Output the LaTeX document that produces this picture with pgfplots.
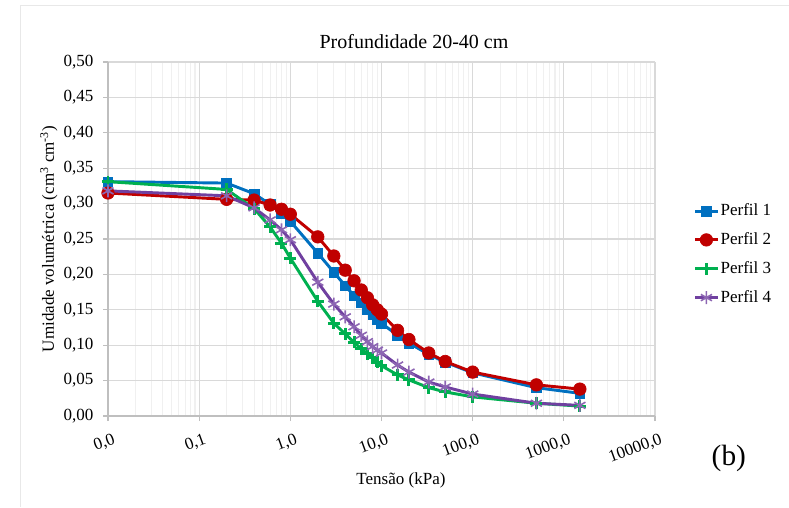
\documentclass[border=0pt]{standalone}
\usepackage{pgfplots}
\pgfplotsset{compat=1.18}
\usepackage{fontspec}
\setmainfont{Liberation Serif}
\definecolor{cBlue}{HTML}{0070C0}
\definecolor{cRed}{HTML}{C00000}
\definecolor{cGreen}{HTML}{00B050}
\definecolor{cPurple}{HTML}{7040A0}
\definecolor{gMaj}{HTML}{D9D9D9}
\definecolor{gMin}{HTML}{F0F0F0}
\definecolor{gAx}{HTML}{BFBFBF}
\begin{document}
\fontsize{12.75pt}{15pt}\selectfont
\begin{tikzpicture}
\path[use as bounding box] (0,0) rectangle (591.75pt,380.25pt);
\draw[gMaj!60, line width=0.6pt] (15pt,0) -- (15pt,376.5pt) -- (591.75pt,376.5pt);
\begin{axis}[
  at={(81pt,68.25pt)}, anchor=south west,
  scale only axis, width=410.25pt, height=265.5pt,
  xmode=log, xmin=0.01, xmax=10000, ymin=0, ymax=0.5,
  xtick={0.01,0.1,1,10,100,1000,10000},
  xticklabels={{0,0},{0,1},{1,0},{10,0},{100,0},{1000,0},{10000,0}},
  ytick={0,0.05,...,0.5},
  /pgf/number format/fixed, /pgf/number format/fixed zerofill,
  /pgf/number format/precision=2, /pgf/number format/use comma,
  /pgf/number format/assume math mode=true,
  yticklabel style={inner sep=0pt, xshift=-7pt},
  xticklabel style={rotate=20, anchor=north east, inner sep=0pt, yshift=-9pt},
  axis x line*=bottom, axis y line*=left,
  axis line style={-, draw=gAx, line width=0.8pt},
  tick align=outside, major tick length=3.75pt, minor tick length=0pt,
  major tick style={draw=gAx, line width=0.8pt},
  xmajorgrids, ymajorgrids, xminorgrids,
  major grid style={draw=gMaj, line width=0.8pt},
  minor grid style={draw=gMin, line width=0.8pt},
  title={Profundidade 20-40 cm},
  title style={at={(axis description cs:0.5594,1.0565)}, anchor=center, yshift=-6pt, font=\fontsize{15pt}{18pt}\selectfont},
  xlabel={Tensão (kPa)},
  xlabel style={at={(axis description cs:0.5356,-0.182)}, anchor=center},
  ylabel={Umidade volumétrica (cm\textsuperscript{3} cm\textsuperscript{-3})},
  ylabel style={at={(axis description cs:-0.108,0.5)}, anchor=center},
  legend style={at={(axis description cs:1.07,0.604)}, anchor=north west, draw=none, fill=none, row sep=8.75pt, inner sep=0pt, nodes={inner sep=1pt}},
  legend cell align=left,
  clip=false,
]
\addplot[color=cBlue, line width=2.2pt, mark=square*, mark size=3.6pt, mark options={line width=0.5pt}] coordinates {
(0.01,0.331) (0.2,0.329) (0.4,0.314) (0.6,0.299) (0.8,0.286) (1,0.275) (2,0.230) (3,0.203) (4,0.184) (5,0.170) (6,0.160) (7,0.151) (8,0.143) (9,0.136) (10,0.131) (15,0.114) (20,0.103) (33,0.087) (50,0.076) (100,0.061) (500,0.040) (1500,0.032)};
\addlegendentry{Perfil 1}
\addplot[color=cRed, line width=2.2pt, mark=*, mark size=4.7pt, mark options={line width=0.5pt}] coordinates {
(0.01,0.315) (0.2,0.306) (0.4,0.305) (0.6,0.298) (0.8,0.292) (1,0.285) (2,0.253) (3,0.226) (4,0.206) (5,0.191) (6,0.178) (7,0.167) (8,0.157) (9,0.150) (10,0.144) (15,0.121) (20,0.108) (33,0.089) (50,0.077) (100,0.062) (500,0.044) (1500,0.038)};
\addlegendentry{Perfil 2}
\addplot[color=cGreen, line width=2.2pt, mark=+, mark size=4.5pt, mark options={line width=2.2pt}] coordinates {
(0.01,0.331) (0.2,0.320) (0.4,0.293) (0.6,0.267) (0.8,0.244) (1,0.223) (2,0.162) (3,0.131) (4,0.116) (5,0.104) (6,0.095) (7,0.088) (8,0.082) (9,0.076) (10,0.071) (15,0.058) (20,0.051) (33,0.040) (50,0.034) (100,0.027) (500,0.018) (1500,0.014)};
\addlegendentry{Perfil 3}
\addplot[color=cPurple, line width=2.2pt, mark=asterisk, mark size=4.8pt, mark options={line width=1.2pt, draw=cPurple!80!white}] coordinates {
(0.01,0.318) (0.2,0.311) (0.4,0.294) (0.6,0.277) (0.8,0.263) (1,0.249) (2,0.189) (3,0.158) (4,0.140) (5,0.126) (6,0.114) (7,0.105) (8,0.098) (9,0.093) (10,0.089) (15,0.072) (20,0.062) (33,0.048) (50,0.041) (100,0.031) (500,0.018) (1500,0.015)};
\addlegendentry{Perfil 4}
\node[font=\fontsize{22pt}{26pt}\selectfont, anchor=center] at (axis description cs:1.135,-0.119) {(b)};
\end{axis}
\end{tikzpicture}
\end{document}
